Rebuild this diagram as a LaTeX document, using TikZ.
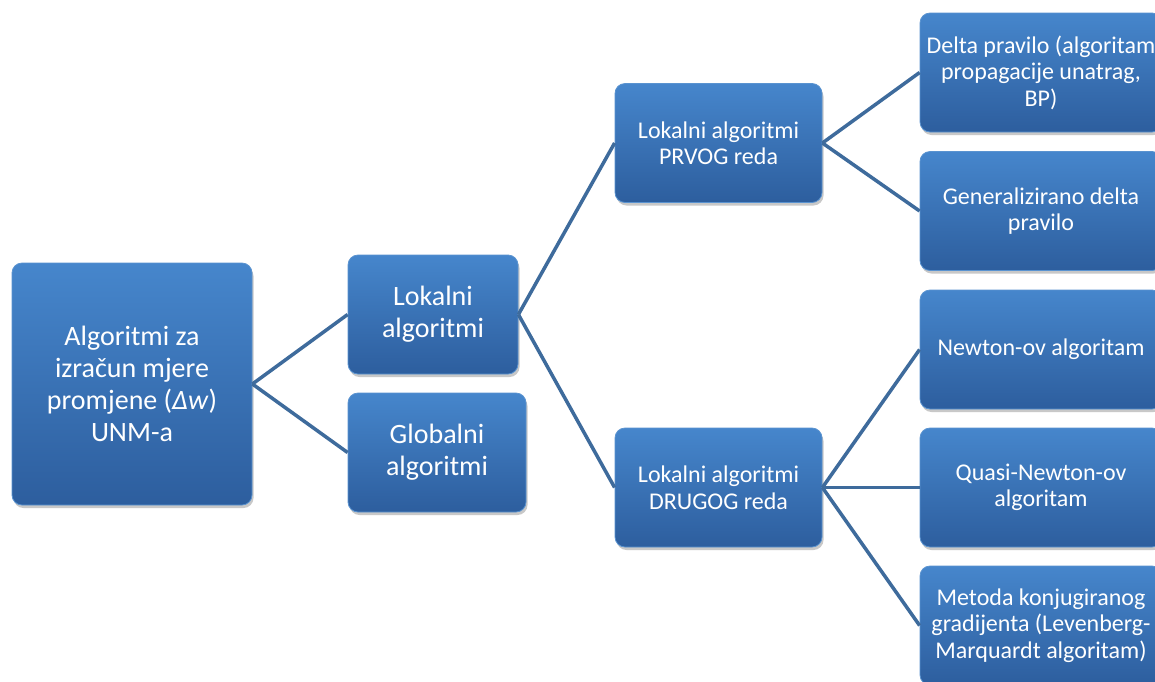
\documentclass[tikz,border=0pt]{standalone}
\usepackage{fontspec}
\setmainfont{Carlito}
\usetikzlibrary{shadows}
\definecolor{boxtop}{HTML}{4686CC}
\definecolor{boxbot}{HTML}{2D5E9E}
\definecolor{boxedge}{HTML}{5A93D0}
\definecolor{linec}{HTML}{3E6B9C}
\begin{document}
\begin{tikzpicture}[x=1pt,y=-1pt,
  box/.style={rounded corners=10pt, top color=boxtop, bottom color=boxbot,
    draw=boxedge, line width=0.8pt, text=white, align=center, inner sep=0pt,
    drop shadow={shadow xshift=1.5pt, shadow yshift=-3pt, opacity=0.3, fill=black!70}},
  big/.style={box, font=\fontsize{28}{32}\selectfont},
  small/.style={box, font=\fontsize{24}{26.5}\selectfont},
  conn/.style={draw=linec, line width=3.5pt}]
\useasboundingbox (0,0) rectangle (1155,681);
\fill[white] (0,0) rectangle (1155,681);
% root
\node[big, minimum width=240pt, minimum height=242pt] (root) at (132,384) {Algoritmi za\\izračun mjere\\promjene (\textit{Δw})\\UNM-a};
% level 1
\node[big, minimum width=170pt, minimum height=119pt] (lok) at (433,314.5) {Lokalni\\algoritmi};
\node[big, minimum width=178pt, minimum height=119pt] (glob) at (437,452.5) {Globalni\\algoritmi};
% level 2
\node[small, minimum width=207pt, minimum height=119pt] (prvi) at (718.5,143) {Lokalni algoritmi\\PRVOG reda};
\node[small, minimum width=207pt, minimum height=119pt] (drugi) at (718.5,487.5) {Lokalni algoritmi\\DRUGOG reda};
% level 3
\node[small, minimum width=242pt, minimum height=119pt] (delta) at (1041,72.5) {Delta pravilo (algoritam\\propagacije unatrag,\\BP)};
\node[small, minimum width=242pt, minimum height=119pt] (gen) at (1041,211) {Generalizirano delta\\pravilo};
\node[small, minimum width=242pt, minimum height=119pt] (newton) at (1041,349.5) {Newton-ov algoritam};
\node[small, minimum width=242pt, minimum height=119pt] (quasi) at (1041,487.5) {Quasi-Newton-ov\\algoritam};
\node[small, minimum width=242pt, minimum height=119pt] (metoda) at (1041,625.5) {Metoda konjugiranog\\gradijenta (Levenberg-\\Marquardt algoritam)};
% connectors
\draw[conn] (root.east) -- (lok.west);
\draw[conn] (root.east) -- (glob.west);
\draw[conn] (lok.east) -- (prvi.west);
\draw[conn] (lok.east) -- (drugi.west);
\draw[conn] (prvi.east) -- (delta.west);
\draw[conn] (prvi.east) -- (gen.west);
\draw[conn] (drugi.east) -- (newton.west);
\draw[conn] (drugi.east) -- (quasi.west);
\draw[conn] (drugi.east) -- (metoda.west);
\end{tikzpicture}
\end{document}
